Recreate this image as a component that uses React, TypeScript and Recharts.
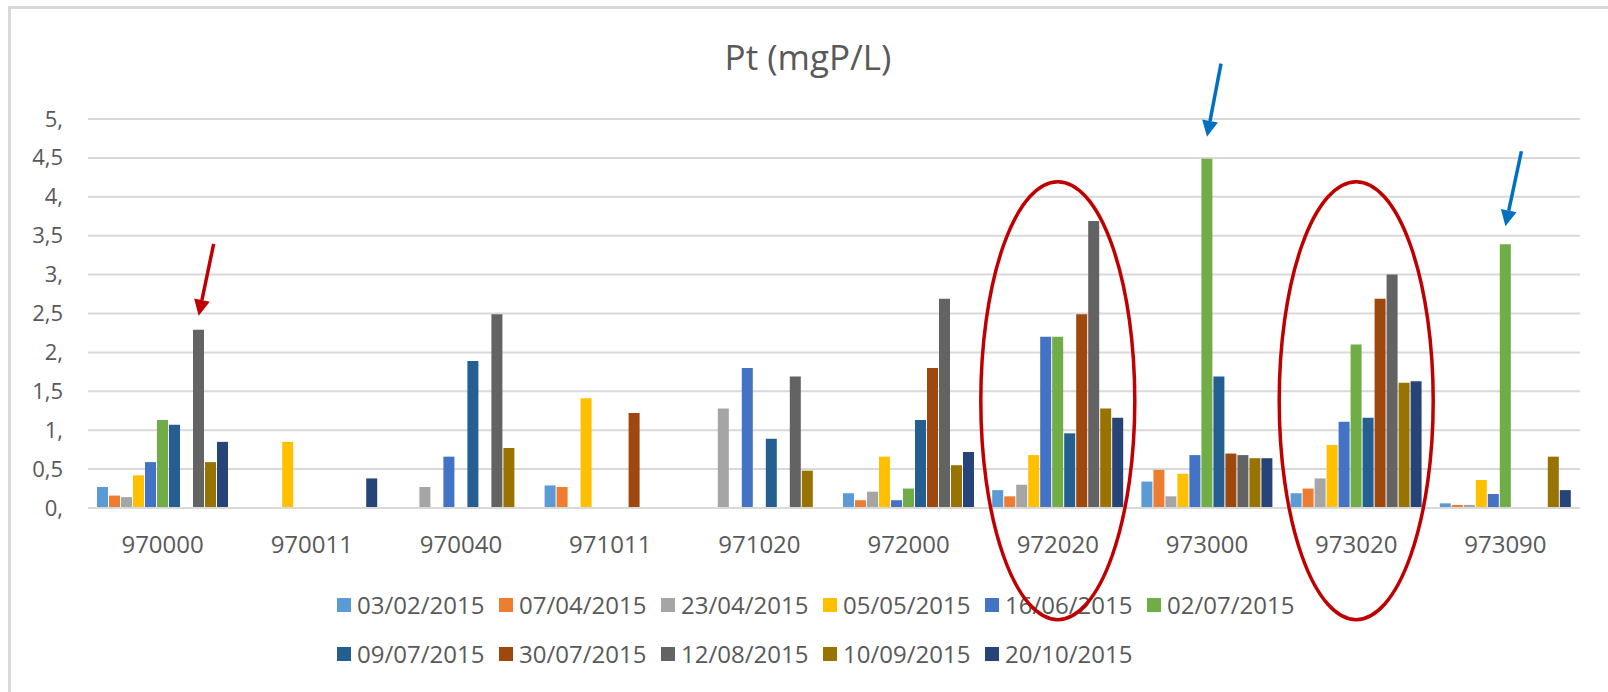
import React from "react";
import { BarChart, Bar, XAxis, YAxis, CartesianGrid, ReferenceDot } from "recharts";

document.body.style.margin = "0";

const stations = ["970000", "970011", "970040", "971011", "971020", "972000", "972020", "973000", "973020", "973090"];

const dates = [
  "03/02/2015", "07/04/2015", "23/04/2015", "05/05/2015", "16/06/2015", "02/07/2015",
  "09/07/2015", "30/07/2015", "12/08/2015", "10/09/2015", "20/10/2015",
];

const COLORS = [
  "#5B9BD5", "#ED7D31", "#A5A5A5", "#FFC000", "#4472C4", "#70AD47",
  "#255E91", "#9E480E", "#636363", "#997300", "#264478",
];

// one array per sampling date, one value per station (null = no sample)
const d0302 = [0.27, null, null, 0.29, null, 0.19, 0.23, 0.34, 0.19, 0.06];
const d0704 = [0.16, null, null, 0.27, null, 0.1, 0.15, 0.49, 0.25, 0.04];
const d2304 = [0.14, null, 0.27, null, 1.28, 0.21, 0.3, 0.15, 0.38, 0.04];
const d0505 = [0.42, 0.85, null, 1.41, null, 0.66, 0.68, 0.44, 0.81, 0.36];
const d1606 = [0.59, null, 0.66, null, 1.8, 0.1, 2.2, 0.68, 1.11, 0.18];
const d0207 = [1.13, null, null, null, null, 0.25, 2.2, 4.49, 2.1, 3.39];
const d0907 = [1.07, null, 1.89, null, 0.89, 1.13, 0.96, 1.69, 1.16, null];
const d3007 = [null, null, null, 1.22, null, 1.8, 2.49, 0.7, 2.69, null];
const d1208 = [2.29, null, 2.49, null, 1.69, 2.69, 3.69, 0.68, 3.0, null];
const d1009 = [0.59, null, 0.77, null, 0.48, 0.55, 1.28, 0.64, 1.61, 0.66];
const d2010 = [0.85, 0.38, null, null, null, 0.72, 1.16, 0.64, 1.63, 0.23];

const seriesValues = [d0302, d0704, d2304, d0505, d1606, d0207, d0907, d3007, d1208, d1009, d2010];

const yTicks = [0, 0.5, 1, 1.5, 2, 2.5, 3, 3.5, 4, 4.5, 5];

// annotations: arrows pointing at a bar, ellipses round a station group
const arrows = [
  { station: "970000", series: 8, color: "#C00000", gap: 14, sx: 15, sy: -72 },
  { station: "973000", series: 5, color: "#0070C0", gap: 22, sx: 14, sy: -73 },
  { station: "973090", series: 5, color: "#0070C0", gap: 18, sx: 16, sy: -75 },
];
const circled = ["972020", "973020"];

const data = stations.map((s, i) => {
  const row: { [k: string]: string | number | null } = { station: s };
  dates.forEach((d, j) => {
    row[d] = seriesValues[j][i];
  });
  return row;
});

const TEXT = "#595959";
const FONT = "'Open Sans', sans-serif";

const fmtY = (v: number) => (Number.isInteger(v) ? `${v},` : String(v).replace(".", ","));

const YTick = ({ x, y, payload }: any) => (
  <text x={x - 25} y={y} dy={7.5} textAnchor="end" fontSize={22} fill={TEXT} fontFamily={FONT}>
    {fmtY(payload.value)}
  </text>
);

const XTick = ({ x, y, payload }: any) => (
  <text x={x} y={y} dy={45} textAnchor="middle" fontSize={24} fill={TEXT} fontFamily={FONT}>
    {payload.value}
  </text>
);

// bar centre relative to the band centre (band 149.2, gap 9, barGap 1)
const barOffset = (i: number) => i * 12.02 - 60.1;

const Arrow = ({ cx, cy, dx, gap, sx, sy, color }: any) => {
  const tx = cx + dx;
  const ty = cy - gap;
  const len = Math.hypot(sx, sy);
  const ux = sx / len;
  const uy = sy / len;
  const head = 16;
  const bx = tx + ux * head;
  const by = ty + uy * head;
  const px = -uy * 8;
  const py = ux * 8;
  return (
    <g>
      <line x1={tx + sx} y1={ty + sy} x2={bx} y2={by} stroke={color} strokeWidth={3.5} />
      <polygon points={`${tx},${ty} ${bx + px},${by + py} ${bx - px},${by - py}`} fill={color} />
    </g>
  );
};

export default function App() {
  return (
    <div style={{ position: "relative", width: 1608, height: 692, background: "#fff", overflow: "hidden" }}>
      <div
        style={{
          position: "absolute",
          left: 8,
          top: 6,
          right: -10,
          bottom: -10,
          borderLeft: "3px solid #d9d9d9",
          borderTop: "3px solid #d9d9d9",
        }}
      />
      <div
        style={{
          position: "absolute",
          left: 0,
          width: 1616,
          top: 39,
          textAlign: "center",
          fontFamily: FONT,
          fontSize: 35,
          lineHeight: "35px",
          color: TEXT,
        }}
      >
        Pt (mgP/L)
      </div>
      <div
        style={{
          position: "absolute",
          left: 337,
          top: 580,
          width: 6 * 162,
          display: "flex",
          flexWrap: "wrap",
          fontFamily: FONT,
          fontSize: 24,
          color: TEXT,
        }}
      >
        {dates.map((d, i) => (
          <div key={d} style={{ width: 162, height: 49, display: "flex", alignItems: "center" }}>
            <span style={{ width: 14, height: 14, background: COLORS[i], marginRight: 6, flexShrink: 0 }} />
            <span style={{ lineHeight: "49px", whiteSpace: "nowrap" }}>{d}</span>
          </div>
        ))}
      </div>
      <div style={{ position: "absolute", left: 0, top: 0 }}>
        <BarChart
          width={1608}
          height={692}
          data={data}
          margin={{ top: 119, right: 28, bottom: 144, left: 0 }}
          barCategoryGap={9}
          barGap={1}
        >
          <CartesianGrid vertical={false} stroke="#d9d9d9" strokeWidth={2} />
          <XAxis
            dataKey="station"
            height={40}
            tickSize={0}
            tickMargin={0}
            tickLine={false}
            axisLine={{ stroke: "#d9d9d9", strokeWidth: 2 }}
            tick={<XTick />}
            interval={0}
          />
          <YAxis
            width={88}
            domain={[0, 5]}
            ticks={yTicks}
            tickSize={0}
            tickMargin={0}
            tickLine={false}
            axisLine={false}
            tick={<YTick />}
            interval={0}
          />
          {dates.map((d, i) => (
            <Bar key={d} dataKey={d} fill={COLORS[i]} isAnimationActive={false} />
          ))}
          {circled.map((s) => (
            <ReferenceDot
              key={s}
              x={s}
              y={1.38}
              ifOverflow="visible"
              shape={(p: any) => (
                <ellipse cx={p.cx} cy={p.cy} rx={77} ry={219} fill="none" stroke="#C00000" strokeWidth={3.5} />
              )}
            />
          ))}
          {arrows.map((a) => (
            <ReferenceDot
              key={a.station}
              x={a.station}
              y={seriesValues[a.series][stations.indexOf(a.station)] as number}
              ifOverflow="visible"
              shape={(p: any) => (
                <Arrow cx={p.cx} cy={p.cy} dx={barOffset(a.series)} gap={a.gap} sx={a.sx} sy={a.sy} color={a.color} />
              )}
            />
          ))}
        </BarChart>
      </div>
    </div>
  );
}
